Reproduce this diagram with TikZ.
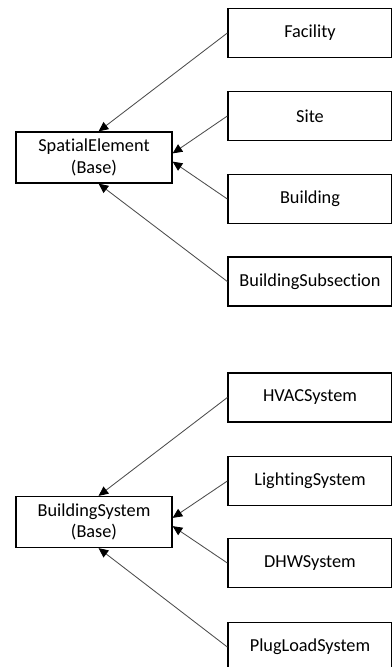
\documentclass[tikz,border=0pt]{standalone}
\usepackage{fontspec}
\setmainfont[Ligatures=NoCommon]{Carlito}
\usetikzlibrary{arrows.meta}

\begin{document}
\begin{tikzpicture}[x=0.025cm, y=-0.025cm,
    basebox/.style={draw, line width=0.9pt, minimum width=3.9cm, minimum height=1.275cm, align=center, font=\fontsize{13}{15.5}\selectfont},
    childbox/.style={draw, line width=0.9pt, minimum width=4.1cm, minimum height=1.225cm, font=\fontsize{13}{15.5}\selectfont},
    inherit/.style={draw=black!70, line width=0.6pt, -{Triangle[length=2.4mm, width=2.2mm, color=black]}}]
\useasboundingbox (0,0) rectangle (391,667);
% spatial elements
\node[basebox] (Spatial) at (94,157.5) {SpatialElement\\(Base)};
\node[childbox] (Facility) at (310,33) {Facility};
\node[childbox] (Site) at (310,116) {Site};
\node[childbox] (Building) at (310,199) {Building};
\node[childbox] (Subsection) at (310,281.5) {BuildingSubsection};
\draw[inherit] (Facility.west) -- (Spatial.80);
\draw[inherit] (Site.west) -- (Spatial.3);
\draw[inherit] (Building.west) -- (Spatial.-3);
\draw[inherit] (Subsection.west) -- (Spatial.-80);
% building systems
\node[basebox] (System) at (94,522) {BuildingSystem\\(Base)};
\node[childbox] (HVAC) at (310,397.5) {HVACSystem};
\node[childbox] (Lighting) at (310,481) {LightingSystem};
\node[childbox] (DHW) at (310,563) {DHWSystem};
\node[childbox] (PlugLoad) at (310,647) {PlugLoadSystem};
\draw[inherit] (HVAC.west) -- (System.80);
\draw[inherit] (Lighting.west) -- (System.3);
\draw[inherit] (DHW.west) -- (System.-3);
\draw[inherit] (PlugLoad.west) -- (System.-80);
\end{tikzpicture}
\end{document}
